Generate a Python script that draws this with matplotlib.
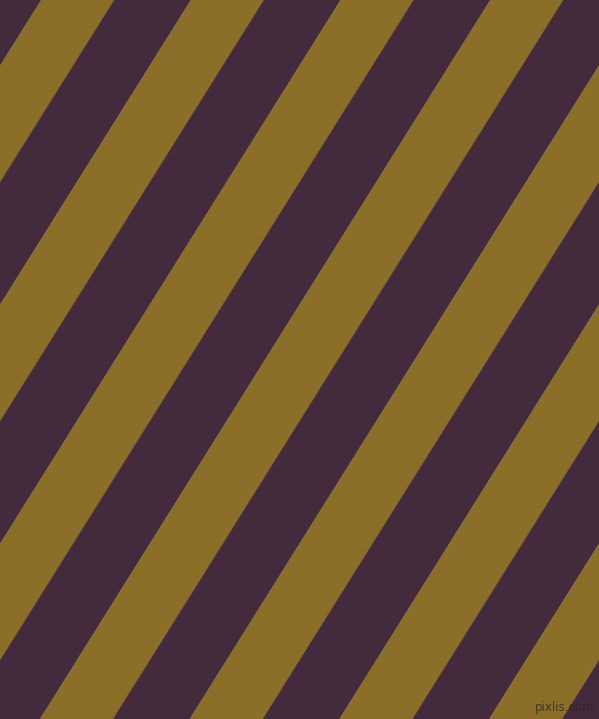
import numpy as np
import matplotlib.pyplot as plt
from matplotlib.patches import Polygon

# stripe pattern (pixels)
W, H = 599, 719
stripe_colors = ['#8B6F28', '#432A3C']   # gold, purple
stripe_widths = [73.0, 76.7]             # horizontal width of each band
first_gold_x = 41.3                      # where a gold band starts on the top edge
slope = 1.597                            # dy/dx of the stripe edges

fig = plt.figure(figsize=(W / 100, H / 100), dpi=100)
ax = fig.add_axes([0, 0, 1, 1])
ax.set_xlim(0, W)
ax.set_ylim(H, 0)
ax.axis('off')

period = sum(stripe_widths)
shift = H / slope
c = first_gold_x - period * np.ceil((first_gold_x + 10) / period)
i = 0
while c < W + shift + 10:
    w = stripe_widths[i % 2]
    c0, c1 = c, c + w
    pts = [(c0, 0), (c1, 0), (c1 - shift, H), (c0 - shift, H)]
    ax.add_patch(Polygon(pts, closed=True, facecolor=stripe_colors[i % 2],
                         edgecolor=stripe_colors[i % 2], linewidth=0.3))
    c = c1
    i += 1

# faint watermark, bottom right
ax.text(594, 707, 'pixlis.com', ha='right', va='center', fontsize=8.5,
        color='#2e2228', alpha=0.75)

fig.savefig('out.png', dpi=100)
